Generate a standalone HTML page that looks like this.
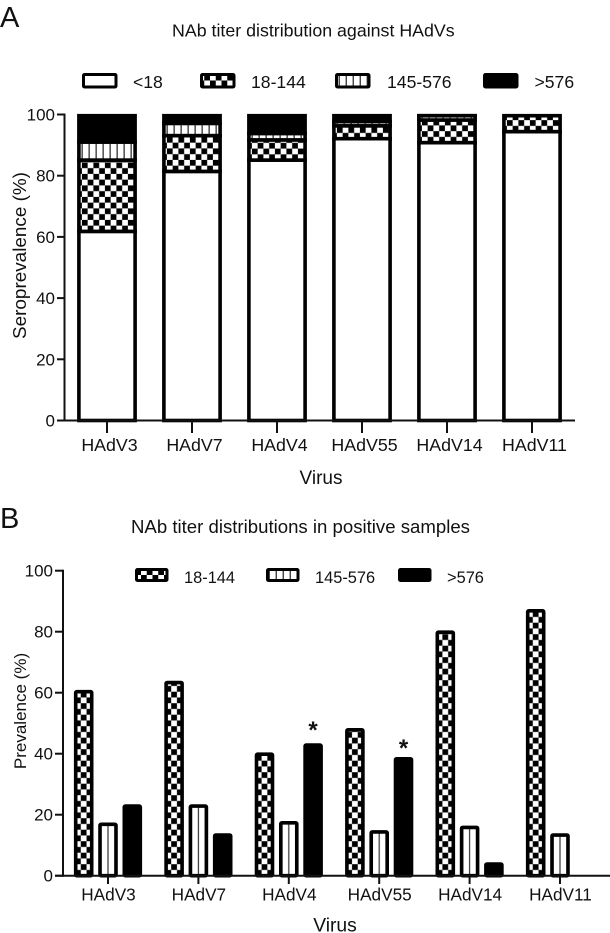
<!DOCTYPE html>
<html>
<head>
<meta charset="utf-8">
<style>
html,body{margin:0;padding:0;background:#fff;width:610px;height:933px;overflow:hidden}
svg{display:block;font-family:"Liberation Sans",Arial,sans-serif;fill:#111;filter:blur(0.3px)}
</style>
</head>
<body>
<svg id="figure" xmlns="http://www.w3.org/2000/svg" width="610" height="933" viewBox="0 0 610 933">
  <defs>
    <pattern id="checkA" patternUnits="userSpaceOnUse" width="11.5" height="11.5">
      <rect width="11.5" height="11.5" fill="#fff"/>
      <rect x="3" width="5.75" height="5.75" fill="#000"/>
      <rect x="8.75" y="5.75" width="2.75" height="5.75" fill="#000"/>
      <rect x="0" y="5.75" width="3" height="5.75" fill="#000"/>
    </pattern>
    <pattern id="checkB" patternUnits="userSpaceOnUse" width="11.5" height="11.5">
      <rect width="11.5" height="11.5" fill="#fff"/>
      <rect x="5.1" width="5.75" height="5.75" fill="#000"/>
      <rect x="10.85" y="5.75" width="0.65" height="5.75" fill="#000"/>
      <rect x="0" y="5.75" width="5.1" height="5.75" fill="#000"/>
    </pattern>
    <pattern id="stripeA" patternUnits="userSpaceOnUse" width="7" height="7">
      <rect width="7" height="7" fill="#fff"/>
      <rect x="2.6" width="1.3" height="7" fill="#333"/>
    </pattern>
    <pattern id="stripeB" patternUnits="userSpaceOnUse" width="7" height="7">
      <rect width="7" height="7" fill="#fff"/>
      <rect x="0.4" width="1.2" height="7" fill="#333"/>
    </pattern>
  </defs>
  <text x="0" y="27" font-size="29">A</text>
  <text x="172" y="36.5" font-size="17.8">NAb titer distribution against HAdVs</text>
  <text x="0" y="528" font-size="29">B</text>
  <text x="131" y="533" font-size="18.6">NAb titer distributions in positive samples</text>

  <g id="legendA">
    <rect x="83.5" y="74.5" width="32.5" height="12.5" rx="1" fill="#fff" stroke="#000" stroke-width="3"/>
    <text x="133" y="88" font-size="17.6">&lt;18</text>
    <rect x="201.5" y="74.5" width="32.5" height="12.5" rx="1" fill="url(#checkA)" stroke="#000" stroke-width="3"/>
    <text x="251" y="88" font-size="17.6">18-144</text>
    <rect x="336.5" y="74.5" width="32.5" height="12.5" rx="1" fill="url(#stripeA)" stroke="#000" stroke-width="3"/>
    <text x="387" y="88" font-size="17.6">145-576</text>
    <rect x="484.5" y="74.5" width="32.5" height="12.5" rx="1" fill="#000" stroke="#000" stroke-width="3"/>
    <text x="534.5" y="88" font-size="17.6">&gt;576</text>
  </g>
  <g id="legendB">
    <rect x="136.5" y="569.5" width="30.5" height="11" rx="1" fill="url(#checkA)" stroke="#000" stroke-width="3"/>
    <text x="184" y="583" font-size="16.4">18-144</text>
    <rect x="267.5" y="569.5" width="30.5" height="11" rx="1" fill="url(#stripeA)" stroke="#000" stroke-width="3"/>
    <text x="315" y="583" font-size="16.4">145-576</text>
    <rect x="399.5" y="569.5" width="30.5" height="11" rx="1" fill="#000" stroke="#000" stroke-width="3"/>
    <text x="447" y="583" font-size="16.4">&gt;576</text>
  </g>
  <g id="chartA"></g>
  <g id="chartB"></g>
</svg>
<script>
var viruses = ["HAdV3", "HAdV7", "HAdV4", "HAdV55", "HAdV14", "HAdV11"];
var yTicks = [0, 20, 40, 60, 80, 100];
var stackedLt18 = [61.8, 81.4, 85.1, 92.1, 90.8, 94.4];
var stacked18to144 = [23.3, 11.7, 6.6, 4.2, 7.4, 5.6];
var stacked145to576 = [5.9, 4.0, 2.1, 1.4, 1.4, 0];
var stackedGt576 = [9.0, 2.9, 6.2, 2.3, 0.4, 0];
var positive18to144 = [60.5, 63.5, 40, 48, 80, 87];
var positive145to576 = [17, 23, 17.5, 14.5, 16, 13.5];
var positiveGt576 = [23, 13.5, 43, 38.5, 4, 0];
var significanceLabels = ["", "", "*", "*", "", ""];
var significanceHeights = [0, 0, 48.4, 42.5, 0, 0];

var NS = "http://www.w3.org/2000/svg";
function make(parent, tag, attrs, text) {
  var el = document.createElementNS(NS, tag);
  for (var k in attrs) el.setAttribute(k, attrs[k]);
  if (text !== undefined) el.textContent = text;
  parent.appendChild(el);
  return el;
}
function yA(v) { return 420.5 - 3.06 * v; }
function yB(v) { return 875.7 - 3.05 * v; }
function xA(i) { return 107 + 85 * i; }
function xB(i) { return 108 + 90.4 * i; }

function axes(g, axisX, yFn, tickLeft, xEnd, xFn, tickBottom, labelY, labelOffset, labelSize) {
  var yAxis = make(g, "line", {x1: axisX, x2: axisX, y1: yFn(100) - 1, y2: yFn(0) + 1, stroke: "#111", "stroke-width": 2});
  
  
  var xAxis = make(g, "line", {x1: tickLeft, x2: xEnd, y1: yFn(0), y2: yFn(0), stroke: "#111", "stroke-width": 2});
  
  
  yTicks.forEach(function (t) {
    var tick = make(g, "line", {x1: tickLeft, x2: axisX, y1: yFn(t), y2: yFn(t), stroke: "#111", "stroke-width": 2});
    
    
    var label = make(g, "text", {x: tickLeft - 2, y: yFn(t) + 6, "font-size": 17, "text-anchor": "end"}, String(t));
    
    
  });
  viruses.forEach(function (name, i) {
    var tick = make(g, "line", {x1: xFn(i), x2: xFn(i), y1: yFn(0), y2: tickBottom, stroke: "#111", "stroke-width": 2});
    
    
    var label = make(g, "text", {x: xFn(i) + labelOffset, y: labelY, "font-size": labelSize, "text-anchor": "middle"}, name);
    
    
  });
}

var chartA = document.getElementById("chartA");
var chartB = document.getElementById("chartB");

var stackFills = [
  {values: stackedLt18, fill: "#fff"},
  {values: stacked18to144, fill: "url(#checkA)"},
  {values: stacked145to576, fill: "url(#stripeA)"},
  {values: stackedGt576, fill: "#000"}
];
var halfA = 28.1;
viruses.forEach(function (name, i) {
  var base = 0;
  stackFills.forEach(function (s) {
    var v = s.values[i];
    if (v <= 0) return;
    var top = base + v;
    var yTop = yA(top);
    if (top >= 99.7) yTop += 1.2;
    var h = yA(base) - yTop;
    var seg = make(chartA, "rect", {
      x: 0, y: -h, width: halfA * 2, height: h,
      transform: "translate(" + (xA(i) - halfA) + "," + yA(base) + ")",
      fill: s.fill, stroke: "#000", "stroke-width": 3.6
    });
    
    
    base = top;
  });
});
axes(chartA, 64.5, yA, 57, 575, xA, 433, 451, 2.5, 17.8);
var titleYA = make(chartA, "text", {x: 0, y: 0, "font-size": 18.9, "text-anchor": "middle", transform: "translate(26,255.5) rotate(-90)"}, "Seroprevalence (%)");


var titleXA = make(chartA, "text", {x: 321, y: 484, "font-size": 19, "text-anchor": "middle"}, "Virus");



var groupFills = [
  {values: positive18to144, fill: "url(#checkB)", offset: -24.3},
  {values: positive145to576, fill: "url(#stripeB)", offset: 0},
  {values: positiveGt576, fill: "#000", offset: 24.3}
];
var halfB = 8;
viruses.forEach(function (name, i) {
  groupFills.forEach(function (s) {
    var v = s.values[i];
    if (v <= 0) return;
    var h = yB(0) - yB(v) - 0.5;
    var bar = make(chartB, "rect", {
      x: 0, y: -h, width: halfB * 2, height: h, rx: 1,
      transform: "translate(" + (xB(i) + s.offset - halfB) + "," + yB(0) + ")",
      fill: s.fill, stroke: "#000", "stroke-width": 3.6
    });
    
    
  });
  if (significanceLabels[i]) {
    var star = make(chartB, "text", {
      x: xB(i) + 24.3, y: yB(significanceHeights[i]) + 10, "font-size": 24, "font-weight": "bold", "text-anchor": "middle"
    }, significanceLabels[i]);
    
    
  }
});
axes(chartB, 63, yB, 55, 610, xB, 884, 900.5, 0.5, 17.2);
var titleYB = make(chartB, "text", {x: 0, y: 0, "font-size": 17, "text-anchor": "middle", transform: "translate(26,711) rotate(-90)"}, "Prevalence (%)");


var titleXB = make(chartB, "text", {x: 335, y: 931.5, "font-size": 19.3, "text-anchor": "middle"}, "Virus");


</script>
</body>
</html>
